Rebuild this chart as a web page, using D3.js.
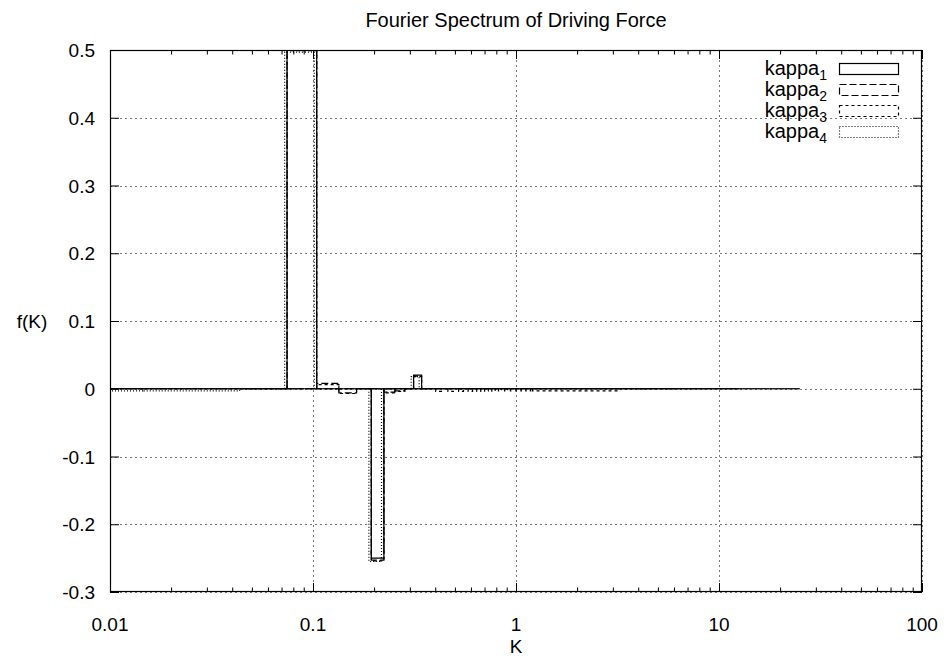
<!DOCTYPE html>
<html><head><meta charset="utf-8">
<script src="https://cdn.jsdelivr.net/npm/d3@7"></script>
<style>
body{margin:0;background:#fff}
text{font-family:"Liberation Sans",Arial,Helvetica,sans-serif;fill:#000}
</style>
</head><body>
<svg id="chart" width="948" height="661"></svg>
<script>
// ---------------- data ----------------
const chartTitle = "Fourier Spectrum of Driving Force";
const xTitle = "K";
const yTitle = "f(K)";
const xTickValues = [0.01, 0.1, 1, 10, 100];
const xTickLabels = ["0.01", "0.1", "1", "10", "100"];
const yTickValues = [0.5, 0.4, 0.3, 0.2, 0.1, 0, -0.1, -0.2, -0.3];
const yTickLabels = ["0.5", "0.4", "0.3", "0.2", "0.1", "0", "-0.1", "-0.2", "-0.3"];
const seriesNames = ["kappa", "kappa", "kappa", "kappa"];
const seriesSubs = ["1", "2", "3", "4"];

// boxes: [K low, K high, f(K)]
const kappa1 = [
  [-0.0149, 0.0745, 0], [0.0745, 0.1043, 0.5], [0.1043, 0.1937, 0],
  [0.1937, 0.2235, -0.25], [0.2235, 0.3129, 0], [0.3129, 0.3427, 0.02],
  [0.3427, 25.0, 0]
];
const kappa2 = [
  [-0.0149, 0.0745, 0], [0.0745, 0.1043, 0.5], [0.1043, 0.1341, 0.008],
  [0.1341, 0.1639, -0.006], [0.1639, 0.1937, 0], [0.1937, 0.2235, -0.253],
  [0.2235, 0.2533, -0.005], [0.2533, 0.2831, -0.003], [0.2831, 0.3129, 0],
  [0.3129, 0.3427, 0.019], [0.3427, 12.5, 0]
];
const kappa3 = [
  [-0.0149, 0.0745, 0], [0.0745, 0.1043, 0.499], [0.1043, 0.1341, 0.006],
  [0.1341, 0.1639, -0.007], [0.1639, 0.1937, 0], [0.1937, 0.2235, -0.254],
  [0.2235, 0.2533, -0.006], [0.2533, 0.2831, -0.004], [0.2831, 0.3129, 0],
  [0.3129, 0.3427, 0.018], [0.3427, 0.4023, 0],
  [0.4023, 0.4321, -0.004], [0.4619, 0.4917, -0.004], [0.5215, 0.5513, -0.004],
  [0.5811, 0.6109, -0.0038], [0.6407, 0.6705, -0.0038], [0.7003, 0.7301, -0.0035],
  [0.7599, 0.7897, -0.0035], [0.8195, 0.8493, -0.0033], [0.8791, 0.9089, -0.0033],
  [0.9387, 0.9685, -0.003], [0.9983, 1.0281, -0.003], [1.0579, 1.0877, -0.003],
  [1.1175, 1.1473, -0.003], [1.1771, 1.2069, -0.003], [1.2069, 3.2, -0.003],
  [3.2, 6.0, 0]
];
const kappa4 = [
  [-0.0145, 0.0145, -0.003], [0.0145, 0.0435, -0.003], [0.0435, 0.0725, 0],
  [0.0725, 0.1015, 0.497], [0.1015, 0.1885, 0], [0.1885, 0.2175, -0.255],
  [0.2175, 0.3045, 0], [0.3045, 0.3335, 0.018], [0.3335, 25.0, 0]
];
const seriesData = [kappa1, kappa2, kappa3, kappa4];

// ---------------- layout / style ----------------
const W = 948, H = 661;
const M = {left: 110, right: 26, top: 50, bottom: 69};
const pw = W - M.left - M.right, ph = H - M.top - M.bottom;
const dashes = [null, "7,3", "3,3", "1,2"];
const FS = 19;

const svg = d3.select("#chart");
const x = d3.scaleLog().domain([0.01, 100]).range([M.left, M.left + pw]);
const y = d3.scaleLinear().domain([-0.3, 0.5]).range([M.top + ph, M.top]);

svg.append("defs").append("clipPath").attr("id", "clip")
  .append("rect").attr("x", M.left).attr("y", M.top).attr("width", pw).attr("height", ph);

// grid
const grid = svg.append("g").attr("stroke", "#777").attr("stroke-width", 1)
  .attr("stroke-dasharray", "2,3").attr("fill", "none");
xTickValues.forEach(v => {
  grid.append("line").attr("x1", Math.round(x(v)) + 0.5).attr("x2", Math.round(x(v)) + 0.5)
    .attr("y1", M.top).attr("y2", M.top + ph);
});
yTickValues.forEach(v => {
  grid.append("line").attr("y1", Math.round(y(v)) + 0.5).attr("y2", Math.round(y(v)) + 0.5)
    .attr("x1", M.left).attr("x2", M.left + pw);
});

// ticks via d3 axes (inward, mirrored)
const minorX = [];
[0.01, 0.1, 1, 10].forEach(d => { for (let i = 2; i <= 9; i++) minorX.push(d * i); });
function inwardAxis(axisGen, transform) {
  const g = svg.append("g").attr("transform", transform).call(axisGen);
  g.select(".domain").remove();
  g.selectAll("text").remove();
  g.selectAll("line").attr("stroke", "#000");
  return g;
}
inwardAxis(d3.axisBottom(x).tickValues(xTickValues).tickSize(-9), `translate(0,${M.top + ph})`);
inwardAxis(d3.axisBottom(x).tickValues(minorX).tickSize(-4.5), `translate(0,${M.top + ph})`);
inwardAxis(d3.axisTop(x).tickValues(xTickValues).tickSize(-9), `translate(0,${M.top})`);
inwardAxis(d3.axisTop(x).tickValues(minorX).tickSize(-4.5), `translate(0,${M.top})`);
inwardAxis(d3.axisLeft(y).tickValues(yTickValues).tickSize(-9), `translate(${M.left},0)`);
inwardAxis(d3.axisRight(y).tickValues(yTickValues).tickSize(-9), `translate(${M.left + pw},0)`);

// tick labels
svg.append("g").selectAll("text").data(xTickValues).join("text")
  .attr("x", d => x(d)).attr("y", M.top + ph + 39).attr("text-anchor", "middle")
  .attr("font-size", FS).text((d, i) => xTickLabels[i]);
svg.append("g").selectAll("text").data(yTickValues).join("text")
  .attr("x", M.left - 15).attr("y", d => y(d) + 7).attr("text-anchor", "end")
  .attr("font-size", FS).text((d, i) => yTickLabels[i]);

// boxes
const xk = k => k > 0 ? x(k) : M.left - 20;
const plot = svg.append("g").attr("clip-path", "url(#clip)");
seriesData.forEach((boxes, si) => {
  const p = d3.path();
  boxes.forEach(([lo, hi, v]) => {
    const x0 = xk(lo), x1 = xk(hi), y0 = y(0), y1 = y(v);
    p.moveTo(x0, y0); p.lineTo(x0, y1); p.lineTo(x1, y1); p.lineTo(x1, y0); p.closePath();
  });
  plot.append("path").attr("d", p.toString()).attr("fill", "none")
    .attr("stroke", "#000").attr("stroke-width", 1.2)
    .attr("stroke-dasharray", dashes[si]);
});

// border
svg.append("rect").attr("x", M.left + 0.5).attr("y", M.top + 0.5)
  .attr("width", pw - 1).attr("height", ph - 1)
  .attr("fill", "none").attr("stroke", "#000").attr("stroke-width", 1.2);

// titles
svg.append("text").attr("x", M.left + pw / 2).attr("y", 27).attr("text-anchor", "middle")
  .attr("font-size", FS + 1).text(chartTitle);
svg.append("text").attr("x", M.left + pw / 2).attr("y", 653).attr("text-anchor", "middle")
  .attr("font-size", FS).text(xTitle);
svg.append("text").attr("x", 32).attr("y", y(0.1) + 7).attr("text-anchor", "middle")
  .attr("font-size", FS).text(yTitle);

// legend
const lg = svg.append("g");
seriesNames.forEach((name, i) => {
  const cy = 68.5 + i * 21;
  const t = lg.append("text").attr("x", 827).attr("y", cy + 6).attr("text-anchor", "end")
    .attr("font-size", FS + 1);
  t.append("tspan").text(name);
  t.append("tspan").attr("font-size", 14).attr("dy", 5).text(seriesSubs[i]);
  lg.append("rect").attr("x", 839.5).attr("y", cy - 5).attr("width", 59).attr("height", 11)
    .attr("fill", "none").attr("stroke", "#000").attr("stroke-width", 1.2)
    .attr("stroke-dasharray", dashes[i]);
});
</script>
</body></html>
